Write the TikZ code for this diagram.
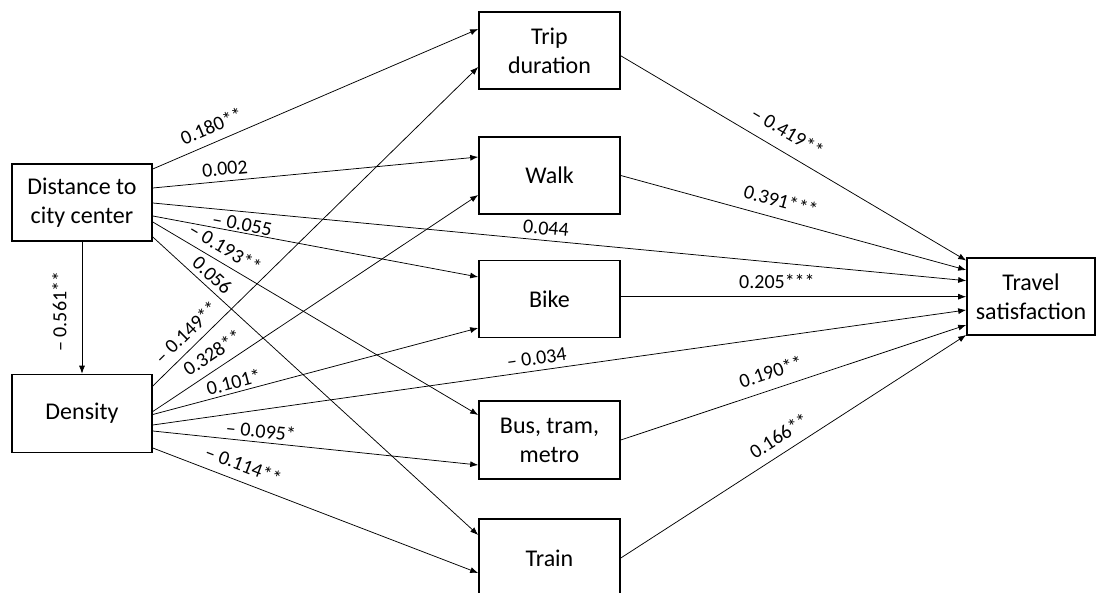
\documentclass[tikz,border=0pt]{standalone}
\usepackage{fontspec}
\setmainfont{Carlito}
\usetikzlibrary{arrows.meta}
\begin{document}
\begin{tikzpicture}[x=1pt, y=-1pt, >={Latex[length=8pt,width=6pt]},
          box/.style={draw, line width=1.6pt, align=center, inner sep=2pt,
            minimum width=141pt, minimum height=77pt, font=\fontsize{24}{29}\selectfont},
          lab/.style={inner sep=0pt, font=\fontsize{20}{24}\selectfont},
          elab/.style={lab, sloped},
          link/.style={->, line width=0.75pt}]
        \useasboundingbox (0,0) rectangle (1096,593);
        \node[box, minimum width=140pt] (dist) at (82,202.5) {Distance to\\city center};
        \node[box, minimum width=140pt, minimum height=78pt] (dens) at (82,413.5) {Density};
        \node[box] (trip) at (549.5,50.8) {Trip\\duration};
        \node[box] (walk) at (549.5,175.5) {Walk};
        \node[box] (bike) at (549.5,299) {Bike};
        \node[box, minimum height=78pt] (bus) at (549.5,440) {Bus, tram,\\metro};
        \node[box, minimum height=78pt] (train) at (549.5,558) {Train};
        \node[box, minimum width=128pt] (sat) at (1031,296.5) {Travel\\satisfaction};
        \draw[link] (dist.south) -- (dens.north)
          node[lab, pos=0.53, rotate=90, above=15pt] {– 0.561**};
        \draw[link] ([yshift=33.5pt]dist.east) -- ([yshift=21.8pt]trip.west)
          node[elab, pos=0.2, above=8.7pt] {0.180**};
        \draw[link] ([yshift=14.5pt]dist.east) -- ([yshift=18.5pt]walk.west)
          node[elab, pos=0.225, above=5.3pt] {0.002};
        \draw[link] ([yshift=-0.5pt]dist.east) -- ([yshift=15.8pt]sat.west)
          node[elab, pos=0.482, above=5.2pt] {0.044};
        \draw[link] ([yshift=-13.5pt]dist.east) -- ([yshift=22pt]bike.west)
          node[elab, pos=0.27, above=1.3pt] {– 0.055};
        \draw[link] ([yshift=-19.5pt]dist.east) -- ([yshift=25pt]bus.west)
          node[elab, pos=0.2, above=7.2pt] {– 0.193**};
        \draw[link] ([yshift=-34.5pt]dist.east) -- ([yshift=23pt]train.west)
          node[elab, pos=0.158, above=4.8pt] {0.056};
        \draw[link] ([yshift=27.5pt]dens.east) -- ([yshift=-16.2pt]trip.west)
          node[elab, pos=0.135, above=7.7pt] {– 0.149**};
        \draw[link] ([yshift=2pt]dens.east) -- ([yshift=-19.5pt]walk.west)
          node[elab, pos=0.21, above=8.4pt] {0.328**};
        \draw[link] ([yshift=-1pt]dens.east) -- ([yshift=-29pt]bike.west)
          node[elab, pos=0.257, above=3.2pt] {0.101*};
        \draw[link] ([yshift=-11.5pt]dens.east) -- ([yshift=-13.5pt]sat.west)
          node[elab, pos=0.474, above=5.3pt] {– 0.034};
        \draw[link] ([yshift=-17.5pt]dens.east) -- ([yshift=-25pt]bus.west)
          node[elab, pos=0.329, above=3.9pt] {– 0.095*};
        \draw[link] ([yshift=-34.5pt]dens.east) -- ([yshift=-15pt]train.west)
          node[elab, pos=0.26, above=9.2pt] {– 0.114**};
        \draw[link] ([yshift=-5pt]trip.east) -- ([yshift=36pt]sat.west)
          node[elab, pos=0.454, above=12.2pt] {– 0.419**};
        \draw[link] (walk.east) -- ([yshift=26.5pt]sat.west)
          node[elab, pos=0.45, above=10.3pt] {0.391***};
        \draw[link] ([yshift=2.3pt]bike.east) -- ([yshift=-0.2pt]sat.west)
          node[elab, pos=0.452, above=7.4pt] {0.205***};
        \draw[link] (bus.east) -- ([yshift=-28.5pt]sat.west)
          node[elab, pos=0.45, above=9.8pt] {0.190**};
        \draw[link] (train.east) -- ([yshift=-38.5pt]sat.west)
          node[elab, pos=0.484, above=9.3pt] {0.166**};
      \end{tikzpicture}
\end{document}
